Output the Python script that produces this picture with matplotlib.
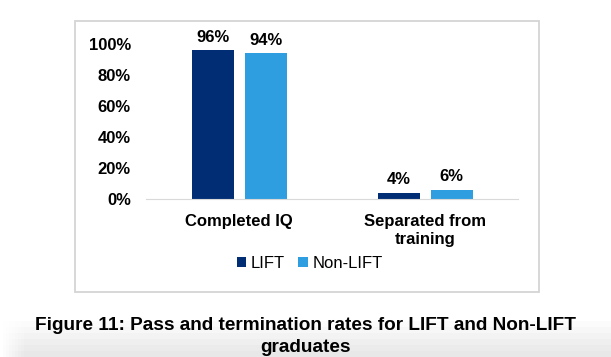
import numpy as np
import matplotlib.pyplot as plt
from matplotlib.patches import Rectangle

plt.rcParams['font.family'] = ['Liberation Sans', 'DejaVu Sans']

categories = ["Completed IQ", "Separated from\ntraining"]
lift = [0.96, 0.04]
non_lift = [0.94, 0.06]
series_names = ["LIFT", "Non-LIFT"]
yticks = [0, 0.2, 0.4, 0.6, 0.8, 1.0]

c_lift = "#002d74"
c_non = "#2e9ee0"

fig = plt.figure(figsize=(6.11, 3.57), dpi=100)

# soft grey shading at the bottom of the screenshot
bg = fig.add_axes([0, 0, 1, 1], zorder=-5)
h = np.linspace(0, 1, 60)[:, None]
w = np.linspace(0, 1, 200)[None, :]
fade = np.clip((h - 0.9) / 0.1, 0, 1) * np.clip(w / 0.04, 0, 1)
grey = 1 - 0.09 * fade
bg.imshow(np.dstack([grey, grey, grey]), extent=[0, 1, 0, 1], aspect="auto")
bg.set_xlim(0, 1)
bg.set_ylim(0, 1)
bg.axis("off")

# chart frame
frame = Rectangle((0.1228, 0.182), 0.7594, 0.759, transform=fig.transFigure,
                  facecolor="white", edgecolor="#d4d4d4", linewidth=1.3)
bg.add_artist(frame)

ax = fig.add_axes([0.239, 0.4426, 0.609, 0.434])
x = np.arange(len(categories))
bw = 0.226
off = 0.1425
b1 = ax.bar(x - off, lift, bw, color=c_lift, label=series_names[0])
b2 = ax.bar(x + off, non_lift, bw, color=c_non, label=series_names[1])

for bars, vals in ((b1, lift), (b2, non_lift)):
    for b, v in zip(bars, vals):
        ax.annotate(f"{v:.0%}", (b.get_x() + b.get_width() / 2, v), xytext=(0, 4),
                    textcoords="offset points", ha="center", va="bottom",
                    fontsize=12, fontweight="bold", annotation_clip=False)

ax.set_xlim(-0.5, 1.5)
ax.set_ylim(0, 1.0)
ax.set_yticks(yticks)
ax.set_yticklabels([f"{t:.0%}" for t in yticks], fontsize=12, fontweight="bold")
ax.set_xticks(x)
ax.set_xticklabels(categories, fontsize=12, fontweight="bold", linespacing=1.2)
ax.tick_params(length=0)
ax.tick_params(axis="y", pad=11)
ax.tick_params(axis="x", pad=11)
for s in ("top", "right", "left"):
    ax.spines[s].set_visible(False)
ax.spines["bottom"].set_color("#d9d9d9")
ax.patch.set_alpha(0)

fig.legend(handles=[b1, b2], labels=series_names, loc="center", bbox_to_anchor=(0.507, 0.263),
           ncol=2, frameon=False, fontsize=12, handlelength=0.55, handleheight=0.55,
           handletextpad=0.3, columnspacing=0.8)

fig.text(0.5, 0.057, "Figure 11: Pass and termination rates for LIFT and Non-LIFT\ngraduates",
         ha="center", va="center", fontsize=13.7, fontweight="bold", linespacing=1.4)

fig.savefig("out.png", dpi=100)
